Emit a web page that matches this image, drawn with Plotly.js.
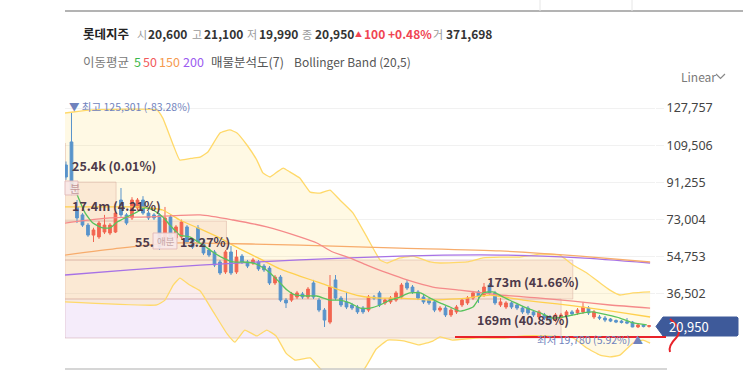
<!DOCTYPE html>
<html><head><meta charset="utf-8">
<script src="https://cdn.plot.ly/plotly-3.0.1.min.js"></script>
<style>html,body{margin:0;padding:0;background:#fff;}#chart{width:743px;height:372px;}</style>
</head><body><div id="chart"></div>
<script>
// ---- candle data (monthly, oldest -> newest) ----
const openP  = [99800,111100,79200,75300,70300,65400,64500,66900,66400,66900,82600,75300,73800,78700,82600,76200,75300,75300,61500,74300,64000,64500,69400,63000,68900,62000,58100,57100,52200,47300,57100,47300,55100,52200,51700,52200,50200,49200,41900,44800,33500,33500,35000,36500,35000,41900,33500,28600,22700,43400,34500,32600,31100,30100,29600,28600,35000,37000,32100,32600,33500,35000,41900,39900,37500,35000,33500,32600,28600,29600,26200,27700,31100,32100,34500,37500,36000,40900,37000,31100,30100,32100,31100,29600,29600,27700,25200,26200,25200,23700,24700,26200,27700,27200,27700,29600,25200,25200,24700,24200,23500,23200,22900,22700,20300,21300,20600];
const highP  = [101500,125301,82600,76200,71300,69000,72300,75300,71300,77200,88500,76200,84000,83600,84500,77200,76200,76200,79200,75300,70300,73000,70300,64000,70300,63000,59000,58100,53200,58100,60000,58100,56100,53200,54200,53200,51200,50200,45800,45800,34500,37500,38000,37500,39900,43400,34500,29600,45800,45800,35500,37500,32100,31100,30600,36000,36000,38000,34500,35500,38000,41900,43400,40900,38400,36000,34500,33500,30600,30600,29600,31100,34500,35500,38000,38400,41900,41900,38000,34500,33000,33000,32100,30600,30600,28600,28600,27200,26200,27200,27200,28600,28600,29600,32600,30600,28600,26200,25700,24700,24000,23700,24700,23200,22200,21500,21100];
const lowP   = [92500,85000,71300,69400,64500,62000,63500,65900,65400,66400,74300,70300,72800,77700,75300,72800,72800,58100,60500,62000,63000,63500,61000,58600,61000,55600,54600,49700,45800,46300,45800,46300,51200,49200,50700,47800,47300,40900,40900,32600,29600,32600,34000,34000,34000,34000,27600,20300,21700,33500,30100,29100,28600,26700,26700,27600,33500,30100,31100,31600,32600,34000,38400,36500,33500,31600,31100,27600,27600,25200,25200,26700,30100,31100,33500,32100,35000,36000,31100,30100,29100,29100,28600,26700,26200,25200,24200,23700,22700,22700,23700,25200,25700,26200,26700,26200,24200,23700,22700,22700,22200,22000,21700,20200,19780,20100,19990];
const closeP = [93900,87500,73800,70300,65400,67900,71300,70300,70300,76200,75300,71300,82600,82600,76200,73800,73800,59500,73800,63000,69400,71800,62000,59500,62000,56600,55600,50700,46800,57100,46800,54600,52200,50200,53200,48800,48300,41900,44800,33500,32100,36500,37000,35000,38900,35000,28600,23700,39900,34500,31100,30100,29600,27700,27700,35000,34500,31100,33500,34500,37000,40900,39400,37500,34500,32600,32100,28600,29600,26200,28600,30100,33500,34500,37000,35500,39900,37000,32100,32600,32100,30100,29600,27700,27200,26200,27700,24700,23700,26200,26200,27700,26700,28600,30100,27200,27700,24700,23700,23200,22700,22500,22200,20300,21300,20500,20950];

// ---- indicator lines (x = candle index) ----
const ma5X  = [1.1,2.2,3.5,4.9,6.7,8,9.3,11.1,12.9,14.4,15.8,17.6,18.9,20.7,22.5,24.9,26.7,28.5,30.4,32.2,34,35.3,37.1,38.4,40.2,41.6,43.8,45.6,48,49.8,51.6,53.5,55.3,57.1,58.9,60.7,62.5,64.4,66.2,68,69.8,71.6,74,75.8,77.6,79.5,81.3,83.8,86.2,88.5,90.4,92.2,94,95.8,98.4,100.7,103.1,105.6];
const ma5Y  = [91900,84100,76200,71300,68900,68900,71800,74300,76700,78700,77700,74300,70300,65400,64500,60500,57100,54200,52200,52200,51700,50200,46800,43400,38400,36000,35500,35500,33500,33500,32100,29600,29600,31100,33500,35000,37000,37000,34500,32100,30100,28100,30100,37000,37500,35000,32600,29600,27200,24700,25200,26200,27200,27700,26200,24700,22300,21300];
const ma50X = [-0.2,8,15.3,24.4,30.4,36.5,42.5,45.6,48.5,51.6,54.7,58.4,62,66.7,71.6,75.8,78.9,86.2,92.2,98.9,106.2];
const ma50Y = [71300,73800,74300,75300,72800,69400,64500,61500,57100,54200,50700,46800,43400,39900,38400,37000,36000,34500,33000,31100,29600];
const ma150X = [-0.2,9.8,18.9,24.4,42.5,60.7,78.9,93.5,106.2];
const ma150Y = [55600,59000,61500,61500,60500,59000,57600,55100,52200];
const ma200X = [-0.2,11.6,24.4,42.5,60.7,78.9,93.5,106.2];
const ma200Y = [45800,48300,50700,53200,55100,55600,54200,51700];
const bbUpX = [-0.2,1.3,4.9,16.5,17.6,19.5,20.7,23.1,24.4,25.8,28,29.8,31.1,32.9,34.7,35.8,37.1,38.4,39.5,40.7,42.5,44.4,46.2,48,49.8,52.2,54.7,57.1,58.4,60.7,63.1,66.2,68,72.9,75.8,78.9,82.5,86.2,89.8,92.2,94.7,97.1,98.9,100.7,103.1,106.2];
const bbUpY = [125300,125800,126800,126800,122800,109600,102200,103200,103700,106200,115500,117000,115500,109600,102200,95900,93900,96400,98300,96400,93400,86500,86000,87500,82600,76200,64500,53200,51700,54200,55100,52200,51700,52200,54200,54600,54600,56100,55600,50700,46800,41900,38400,36000,37000,37500];
const bbMidX = [-0.2,6.2,13.5,17.6,20.7,24.4,28,31.6,35.3,38.9,42.5,46.2,49.8,53.5,57.1,60.7,66.7,72.9,77.1,83.1,89.3,95.3,101.3,106.2];
const bbMidY = [79200,79200,79200,77700,72800,68400,63900,58600,53700,48800,45300,41900,38400,35500,34500,34500,33500,34500,36000,33500,31600,29600,27200,25200];
const bbLoX = [-0.2,16.5,18,19.5,20.7,22.5,24.4,26.7,29.3,30.7,32.5,34.7,36.5,38.2,40,41.6,44.4,46.9,53.8,56.4,58.5,61.6,64.2,66.7,68,70.2,74.5,79.8,83.3,87.1,92.2,94.7,97.1,98.9,100.7,103.1,104.9,106.2];
const bbLoY = [32600,31100,33500,40900,44300,40900,38000,28100,16900,12900,18800,15900,18800,15900,7500,4100,5100,-1800,-1800,9500,13900,13400,11500,13400,15400,13900,14900,14900,15900,15900,14900,10000,6500,5600,6500,12400,13900,12400];

// ---- volume profile (매물분석도 7 bins) ----
const binLow  = [14900,34030,53160,72290,91420];
const binHigh = [34030,53160,72290,91420,110550];
const binVol  = [169,173,55.0,17.4,0.0254];          // millions
const binText = ['169m (40.85%)','173m (41.66%)','55.','17.4m (4.21%)','25.4k (0.01%)'];

// ---- axis ticks ----
const tickVals = [36502,54753,73004,91255,109506,127757];
const lastClose = 20950;

// pixel -> paper helpers (plot area 65..655 x 95..370)
const L=65, R=655, T=95, B=370;
const px = x => (x-L)/(R-L);
const py = y => (B-y)/(B-T);
const path = pts => pts.map((p,i)=>(i?'L':'M')+px(p[0]).toFixed(4)+','+py(p[1]).toFixed(4)).join(' ');

const idx = openP.map((_,i)=>i);
const binMid = binLow.map((v,i)=>(v+binHigh[i])/2);
const binSize = binLow.map((v,i)=>binHigh[i]-v);
const fmt = v => v.toLocaleString('en-US');
const barColors = binVol.map((v,i)=> i===0 ? 'rgba(205,160,232,0.20)' : 'rgba(228,160,160,0.20)');

const SM = 0.35;
const traces = [
  {type:'bar', orientation:'h', x:binVol, y:binMid, width:binSize, xaxis:'x', yaxis:'y',
   marker:{color:barColors, line:{color:'rgba(205,155,165,0.45)', width:1}}, hoverinfo:'skip'},
  {type:'scatter', mode:'lines', x:bbUpX, y:bbUpY, xaxis:'x2', yaxis:'y', line:{color:'#ffd96a', width:1.3, shape:'spline', smoothing:SM}, hoverinfo:'skip'},
  {type:'scatter', mode:'lines', x:bbLoX, y:bbLoY, xaxis:'x2', yaxis:'y', fill:'tonexty', fillcolor:'rgba(255,225,120,0.20)', line:{color:'#ffd96a', width:1.3, shape:'spline', smoothing:SM}, hoverinfo:'skip'},
  {type:'scatter', mode:'lines', x:bbMidX, y:bbMidY, xaxis:'x2', yaxis:'y', line:{color:'#ffd04d', width:1.3, shape:'spline', smoothing:SM}, hoverinfo:'skip'},
  {type:'scatter', mode:'lines', x:ma200X, y:ma200Y, xaxis:'x2', yaxis:'y', line:{color:'#a772e6', width:1.3, shape:'spline', smoothing:0.6}, hoverinfo:'skip'},
  {type:'scatter', mode:'lines', x:ma150X, y:ma150Y, xaxis:'x2', yaxis:'y', line:{color:'#f7ac6c', width:1.3, shape:'spline', smoothing:0.6}, hoverinfo:'skip'},
  {type:'scatter', mode:'lines', x:ma50X, y:ma50Y, xaxis:'x2', yaxis:'y', line:{color:'#f58a8a', width:1.3, shape:'spline', smoothing:0.6}, hoverinfo:'skip'},
  {type:'candlestick', x:idx, open:openP, high:highP, low:lowP, close:closeP, xaxis:'x2', yaxis:'y',
   increasing:{line:{color:'#ef4646', width:1}, fillcolor:'#ef4646'},
   decreasing:{line:{color:'#2f80e0', width:1}, fillcolor:'#2f80e0'}, whiskerwidth:0, hoverinfo:'skip'},
  {type:'scatter', mode:'lines', x:ma5X, y:ma5Y, xaxis:'x2', yaxis:'y', line:{color:'#58c35c', width:1.3, shape:'spline', smoothing:0.5}, hoverinfo:'skip'}
];

const F = 'Noto Sans CJK KR, Noto Sans, sans-serif';
const ann = [];
function t(text, x, y, size, color, weight, anchor){
  ann.push({xref:'paper', yref:'paper', x:px(x), y:py(y), xanchor:anchor||'left', yanchor:'middle', showarrow:false,
    text:text, font:{family:F, size:size, color:color, weight:weight||400}});
}
// header line 1
t('롯데지주',81,34,12.5,'#222',700);
t('시',135,34,11,'#9a9a9a'); t('20,600',146,34,12,'#333',700);
t('고',190,34,11,'#9a9a9a'); t('21,100',202,34,12,'#333',700);
t('저',245,34,11,'#9a9a9a'); t('19,990',257,34,12,'#333',700);
t('종',300,34,11,'#9a9a9a'); t('20,950',313,34,12,'#333',700);
t('▲',353,34,7,'#f04452'); t('100',362,34,12,'#f04452',600); t('+0.48%',386,34,12,'#f04452',600);
t('거',431,34,11,'#9a9a9a'); t('371,698',444,34,12,'#333',700);
// header line 2
t('이동평균',81,62,12.5,'#7a7a7a'); t('5',132,62,12.5,'#3cb84a'); t('50',141,62,12.5,'#f25a5a');
t('150',157,62,12.5,'#f59a4e'); t('200',181,62,12.5,'#9b5cf0');
t('매물분석도(7)',209,62,12.5,'#555'); t('Bollinger Band (20,5)',292,62,12,'#555');
t('Linear',679,76,12,'#7a7a7a');
// high / low markers
t('▼ 최고 125,301 (-83.28%)',67,107,10.5,'#7083bd');
t('최저 19,780 (5.92%) ▲',646,339,10.5,'#7083bd',400,'right');
// volume profile labels
const labPos = [[475,319],[485,281],[133,241],[70,205],[70,165]];
binText.forEach((s,i)=>t(s,labPos[i][0],labPos[i][1],12.5,'#4d3a4a',600));
t('13.27%)',178,241,12.5,'#4d3a4a',600);
// badges
t('분',68,188,11,'#c49a9a'); t('애분',155,241,9.5,'#c8a8a8');
// price tag text
t(fmt(lastClose),667,326,13,'#ffffff',400);

const shapes = [
  {type:'line', xref:'paper', yref:'paper', x0:0, x1:px(743), y0:py(11), y1:py(11), line:{color:'#9a9a9a', width:1.5}},
  {type:'line', xref:'paper', yref:'paper', x0:px(540), x1:px(540), y0:py(0), y1:py(11), line:{color:'#e6e6e6', width:1}},
  {type:'line', xref:'paper', yref:'paper', x0:px(632), x1:px(632), y0:py(0), y1:py(11), line:{color:'#e6e6e6', width:1}},
  {type:'line', xref:'paper', yref:'paper', x0:0, x1:px(667), y0:py(369), y1:py(369), line:{color:'#c8c8c8', width:1.5}},
  {type:'path', xref:'paper', yref:'paper', path:path([[716,74],[720.5,78.5],[725,74]]), line:{color:'#888', width:1.2}},
  // badges
  {type:'path', xref:'paper', yref:'paper', path:path([[65,181],[78,181],[78,195],[65,195]])+' Z', fillcolor:'rgba(248,232,232,0.9)', line:{color:'rgba(225,185,185,0.9)', width:1}},
  {type:'path', xref:'paper', yref:'paper', path:path([[153,233],[177,233],[177,249],[153,249]])+' Z', fillcolor:'rgba(248,232,232,0.92)', line:{color:'rgba(225,185,185,0.9)', width:1}},
  // price tag
  {type:'path', xref:'paper', yref:'paper', layer:'above', path:path([[656,326.5],[663,317],[737,317],[738,318],[738,335],[737,336],[663,336]])+' Z', fillcolor:'#3e5a9a', line:{color:'#3e5a9a', width:1}},
  // hand-drawn red marks
  {type:'line', xref:'paper', yref:'paper', x0:px(455), x1:px(666), y0:py(337), y1:py(337), line:{color:'#e8232a', width:2}},
  {type:'path', xref:'paper', yref:'paper', path:'M'+px(670)+','+py(319)+' Q'+px(684)+','+py(330)+' '+px(676)+','+py(338)+' Q'+px(668)+','+py(346)+' '+px(670)+','+py(352), line:{color:'#e8232a', width:2}}
];

const layout = {
  width:743, height:372, margin:{l:L, r:743-R, t:T, b:372-B}, paper_bgcolor:'#fff', plot_bgcolor:'#fff',
  showlegend:false, dragmode:false, hovermode:false,
  xaxis:{range:[0,201], visible:false, fixedrange:true, rangeslider:{visible:false}},
  xaxis2:{overlaying:'x', range:[-0.18,107.09], visible:false, fixedrange:true, rangeslider:{visible:false}},
  yaxis:{side:'right', range:[-806,134136], tickvals:tickVals, ticktext:tickVals.map(fmt), showgrid:true, gridcolor:'#f1f1f1',
    zeroline:false, showline:false, ticks:'outside', ticklen:8, tickcolor:'#f1f1f1', fixedrange:true,
    tickfont:{family:'Noto Sans, sans-serif', size:12.5, color:'#444'}},
  annotations:ann, shapes:shapes
};
Plotly.newPlot('chart', traces, layout, {staticPlot:true, displayModeBar:false});
</script></body></html>
